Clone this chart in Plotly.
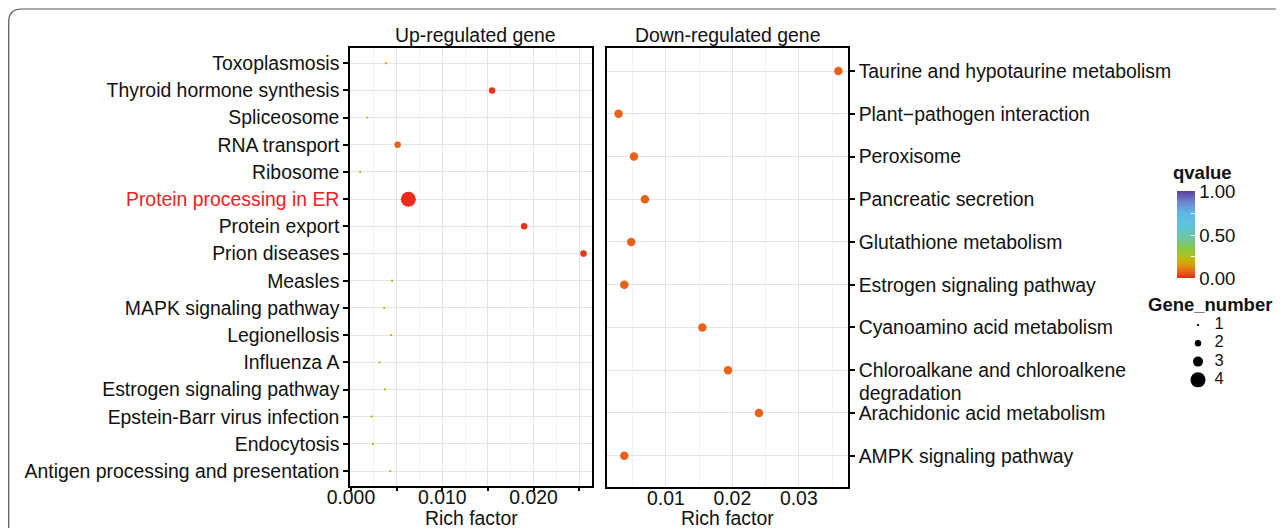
import numpy as np
import plotly.graph_objects as go

# The page body has an 8px margin, so the figure is made 8px smaller and all
# reference pixel positions are shifted by that offset.
OFF = 8
W, H = 1284 - OFF, 528 - OFF
FONT = "Liberation Sans, Arial, sans-serif"
FS = 19.4

# ---------------- data ----------------
up_terms = [
    "Toxoplasmosis", "Thyroid hormone synthesis", "Spliceosome", "RNA transport",
    "Ribosome", "Protein processing in ER", "Protein export", "Prion diseases",
    "Measles", "MAPK signaling pathway", "Legionellosis", "Influenza A",
    "Estrogen signaling pathway", "Epstein-Barr virus infection", "Endocytosis",
    "Antigen processing and presentation",
]
up_rich = [0.00384, 0.01546, 0.00179, 0.00512, 0.00102, 0.00629, 0.01897, 0.02547,
           0.00450, 0.00365, 0.00439, 0.00314, 0.00373, 0.00227, 0.00241, 0.00431]
up_genes = [1, 2, 1, 2, 1, 4, 2, 2, 1, 1, 1, 1, 1, 1, 1, 1]
up_q = [0.20, 0.02, 0.29, 0.07, 0.32, 0.01, 0.02, 0.02,
        0.20, 0.21, 0.20, 0.22, 0.21, 0.23, 0.23, 0.21]
highlight_term = "Protein processing in ER"

down_terms = [
    "Taurine and hypotaurine metabolism", "Plant\u2212pathogen interaction", "Peroxisome",
    "Pancreatic secretion", "Glutathione metabolism", "Estrogen signaling pathway",
    "Cyanoamino acid metabolism", "Chloroalkane and chloroalkene degradation",
    "Arachidonic acid metabolism", "AMPK signaling pathway",
]
down_rich = [0.03595, 0.00289, 0.00520, 0.00685, 0.00480, 0.00375,
             0.01549, 0.01935, 0.02400, 0.00375]
down_genes = [1, 1, 1, 1, 1, 1, 1, 1, 1, 1]
down_q = [0.07, 0.07, 0.07, 0.07, 0.07, 0.07, 0.07, 0.07, 0.07, 0.07]

legend_genes = [1, 2, 3, 4]
q_ticks = [0.0, 0.25, 0.5, 0.75, 1.0]
q_ticktext = ["0.00", "", "0.50", "", "1.00"]

up_xticks = [0.000, 0.005, 0.010, 0.015, 0.020, 0.025]
up_xticktext = ["0.000", "", "0.010", "", "0.020", ""]
down_xticks = [0.01, 0.02, 0.03]
down_xticktext = ["0.01", "0.02", "0.03"]

# ---------------- styling helpers ----------------
size_px = {1: 2.3, 2: 6.5, 3: 10.0, 4: 15.0}
down_size_px = 8.5  # single-valued size scale in the right panel -> mid size

colorscale = [
    [0.00, "#e8241c"], [0.07, "#e8621a"], [0.14, "#dc9410"], [0.20, "#c8b400"],
    [0.27, "#a8c428"], [0.33, "#8cc83c"], [0.45, "#6ec6a0"], [0.60, "#5cc4d8"],
    [0.75, "#5fb6e8"], [0.87, "#6f86cf"], [1.00, "#5a40a0"],
]


def px_x(p):
    return (p - OFF) / W


def px_y(p):
    return 1 - (p - OFF) / H


fig = go.Figure()

fig.add_trace(go.Scatter(
    x=up_rich, y=up_terms, mode="markers", xaxis="x", yaxis="y",
    marker=dict(size=[size_px[g] for g in up_genes], color=up_q, opacity=1,
                coloraxis="coloraxis", line=dict(width=0)),
    showlegend=False, hoverinfo="x+y",
))

fig.add_trace(go.Scatter(
    x=down_rich, y=down_terms, mode="markers", xaxis="x2", yaxis="y2",
    marker=dict(size=[down_size_px for _ in down_genes], color=down_q, opacity=1,
                coloraxis="coloraxis", line=dict(width=0)),
    showlegend=False, hoverinfo="x+y",
))

# size legend (Gene_number) drawn in a small helper subplot
fig.add_trace(go.Scatter(
    x=[8] * len(legend_genes), y=legend_genes, mode="markers", xaxis="x3", yaxis="y3",
    marker=dict(size=[size_px[g] for g in legend_genes], color="black", opacity=1,
                line=dict(width=0)),
    showlegend=False, hoverinfo="skip",
))
fig.add_trace(go.Scatter(
    x=[29] * len(legend_genes), y=legend_genes, mode="text", xaxis="x3", yaxis="y3",
    text=[str(g) for g in legend_genes], textposition="middle center",
    textfont=dict(family=FONT, size=16.5, color="#111"),
    showlegend=False, hoverinfo="skip",
))

axis_common = dict(
    showline=True, mirror=True, linecolor="black", linewidth=1.5,
    showgrid=True, gridcolor="#e4e4e4", gridwidth=1, zeroline=False,
    tickfont=dict(family=FONT, size=FS, color="#111"), automargin=False,
)

up_ticktext = [
    f"<span style='color:#f0201c'>{t}</span>" if t == highlight_term else t
    for t in up_terms
]
down_ticktext = [t.split(" degradation")[0] if t.startswith("Chloroalkane") else t
                 for t in down_terms]

fig.update_layout(
    width=W, height=H,
    margin=dict(l=0, r=0, t=0, b=0),
    paper_bgcolor="white", plot_bgcolor="white",
    font=dict(family=FONT, size=FS, color="#111"),
    xaxis=dict(
        domain=[px_x(350), px_x(592)], anchor="y", range=[-0.0001, 0.0264],
        tickmode="array", tickvals=up_xticks, ticktext=up_xticktext,
        ticks="outside", ticklen=4, tickwidth=1.5, tickcolor="black",
        ticklabelstandoff=-11,
        minor=dict(tickmode="array",
                   tickvals=list(np.arange(0.0025, 0.027, 0.005)),
                   showgrid=True, gridcolor="#f3f3f3", gridwidth=0.8, ticks=""),
        **axis_common,
    ),
    yaxis=dict(
        domain=[px_y(485.5), px_y(48)], anchor="x", type="category",
        categoryorder="array", categoryarray=up_terms,
        range=[len(up_terms) - 1 + 0.53, -0.56],
        tickmode="array", tickvals=up_terms, ticktext=up_ticktext,
        ticks="outside", ticklen=5, tickwidth=1.5, tickcolor="black",
        **axis_common,
    ),
    xaxis2=dict(
        domain=[px_x(607), px_x(848)], anchor="y2", range=[0.00115, 0.0374],
        tickmode="array", tickvals=down_xticks, ticktext=down_xticktext,
        ticks="", ticklabelstandoff=-7,
        minor=dict(tickmode="array",
                   tickvals=[0.005, 0.015, 0.025, 0.035],
                   showgrid=True, gridcolor="#f3f3f3", gridwidth=0.8, ticks=""),
        **axis_common,
    ),
    yaxis2=dict(
        domain=[px_y(486.5), px_y(47.5)], anchor="x2", type="category", side="right",
        categoryorder="array", categoryarray=down_terms,
        range=[len(down_terms) - 1 + 0.72, -0.55],
        tickmode="array", tickvals=down_terms, ticktext=down_ticktext,
        ticks="outside", ticklen=5, tickwidth=1.5, tickcolor="black",
        **axis_common,
    ),
    xaxis3=dict(domain=[px_x(1190), px_x(1230)], anchor="y3", range=[0, 40],
                visible=False, fixedrange=True),
    yaxis3=dict(domain=[px_y(389), px_y(316)], anchor="x3", range=[4.5, 0.5],
                visible=False, fixedrange=True),
    coloraxis=dict(
        cmin=0, cmax=1, colorscale=colorscale,
        colorbar=dict(
            x=px_x(1177), xanchor="left", y=px_y(235), yanchor="middle",
            thickness=17.5, thicknessmode="pixels", len=87, lenmode="pixels",
            tickmode="array", tickvals=q_ticks, ticktext=q_ticktext,
            ticks="inside", ticklen=4, tickcolor="white", tickwidth=1,
            tickfont=dict(family=FONT, size=18.6, color="#111"),
            outlinewidth=0, xpad=0, ypad=0,
        ),
    ),
)

annotations = [
    dict(text="Up-regulated gene", xref="x domain", x=0.52, yref="paper", y=px_y(35),
         xanchor="center", yanchor="middle", showarrow=False,
         font=dict(family=FONT, size=FS, color="#111")),
    dict(text="Down-regulated gene", xref="x2 domain", x=0.5, yref="paper", y=px_y(35),
         xanchor="center", yanchor="middle", showarrow=False,
         font=dict(family=FONT, size=FS, color="#111")),
    dict(text="Rich factor", xref="x domain", x=0.5, yref="paper", y=px_y(518),
         xanchor="center", yanchor="middle", showarrow=False,
         font=dict(family=FONT, size=FS, color="#111")),
    dict(text="Rich factor", xref="x2 domain", x=0.5, yref="paper", y=px_y(518),
         xanchor="center", yanchor="middle", showarrow=False,
         font=dict(family=FONT, size=FS, color="#111")),
    dict(text="degradation", xref="x2 domain", x=1, xanchor="left", xshift=9,
         yref="y2", y="Chloroalkane and chloroalkene degradation", yshift=-23,
         yanchor="middle", showarrow=False,
         font=dict(family=FONT, size=FS, color="#111")),
    dict(text="<b>qvalue</b>", xref="paper", x=px_x(1171), xanchor="left",
         yref="paper", y=px_y(172), yanchor="middle", showarrow=False,
         font=dict(family=FONT, size=18.5, color="#111")),
    dict(text="<b>Gene_number</b>", xref="paper", x=px_x(1146), xanchor="left",
         yref="paper", y=px_y(304), yanchor="middle", showarrow=False,
         font=dict(family=FONT, size=18.5, color="#111")),
]
fig.update_layout(annotations=annotations)

# rounded outer frame of the figure panel (kept just inside the drawing area)
r = 13
fx = 8.7
frame = (f"M {px_x(fx)},{px_y(540)} L {px_x(fx)},{px_y(9 + r)} "
         f"Q {px_x(fx)},{px_y(9)} {px_x(fx + r)},{px_y(9)} L {px_x(1300)},{px_y(9)}")
fig.add_shape(type="path", path=frame, xref="paper", yref="paper",
              line=dict(color="#555", width=1.2), layer="above")

fig.write_html("out.html")
